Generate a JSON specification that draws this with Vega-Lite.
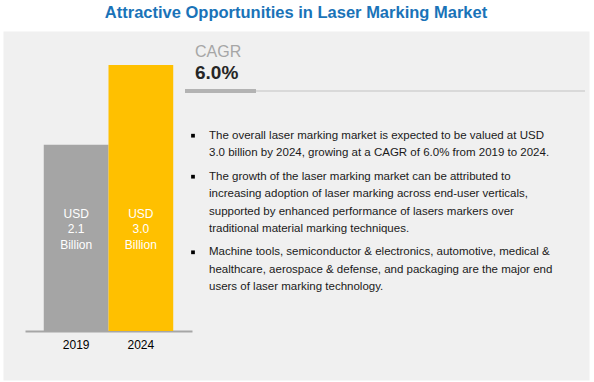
{
  "$schema": "https://vega.github.io/schema/vega-lite/v6.json",
  "width": 586,
  "height": 349,
  "autosize": {"type": "none"},
  "padding": {"left": 3, "top": 31, "right": 5, "bottom": 2},
  "background": "white",
  "view": {"fill": "#f0f0f0", "stroke": "transparent"},
  "title": {
    "text": "Attractive Opportunities in Laser Marking Market",
    "font": "Liberation Sans",
    "fontSize": 16.5,
    "fontWeight": "bold",
    "color": "#1a73b8",
    "anchor": "middle",
    "offset": 10
  },
  "resolve": {"scale": {"x": "independent", "y": "independent"}},
  "layer": [
    {
      "data": {"values": [{"year": "2019", "value": 2.1}, {"year": "2024", "value": 3.0}]},
      "transform": [{"calculate": "'USD\\n' + format(datum.value, '.1f') + '\\nBillion'", "as": "label"}],
      "encoding": {
        "x": {
          "field": "year",
          "type": "nominal",
          "scale": {"range": [22, 189], "paddingInner": 0, "paddingOuter": 0.29},
          "axis": {
            "title": null,
            "labelAngle": 0,
            "offset": -49,
            "ticks": false,
            "grid": false,
            "domainColor": "#a6a6a6",
            "domainWidth": 2,
            "labelFont": "Liberation Sans",
            "labelFontSize": 12,
            "labelColor": "#000000",
            "labelPadding": 8
          }
        }
      },
      "layer": [
        {
          "mark": {"type": "bar"},
          "encoding": {
            "y": {"field": "value", "type": "quantitative", "scale": {"domain": [0, 3], "range": [300, 34], "nice": false}, "axis": null},
            "color": {"field": "year", "type": "nominal", "scale": {"range": ["#a5a5a5", "#ffc000"]}, "legend": null}
          }
        },
        {
          "mark": {"type": "text", "baseline": "top", "align": "center", "lineBreak": "\n", "lineHeight": 15.5, "font": "Liberation Sans", "fontSize": 12, "color": "#ffffff"},
          "encoding": {
            "y": {"datum": 1.38, "type": "quantitative"},
            "text": {"field": "label"}
          }
        }
      ]
    },
    {
      "data": {"values": [
        {"line": 1, "bullet": true, "text": "The overall laser marking market is expected to be valued at USD"},
        {"line": 2, "bullet": false, "text": "3.0 billion by 2024, growing at a CAGR of 6.0% from 2019 to 2024."},
        {"line": 3, "bullet": true, "text": "The growth of the laser marking market can be attributed to"},
        {"line": 4, "bullet": false, "text": "increasing adoption of laser marking across end-user verticals,"},
        {"line": 5, "bullet": false, "text": "supported by enhanced performance of lasers markers over"},
        {"line": 6, "bullet": false, "text": "traditional material marking techniques."},
        {"line": 7, "bullet": true, "text": "Machine tools, semiconductor & electronics, automotive, medical &"},
        {"line": 8, "bullet": false, "text": "healthcare, aerospace & defense, and packaging are the major end"},
        {"line": 9, "bullet": false, "text": "users of laser marking technology."}
      ]},
      "encoding": {
        "y": {
          "field": "line",
          "type": "quantitative",
          "scale": {"domain": [1, 2, 3, 6, 7, 9], "range": [104.7, 121.7, 145.7, 198, 221.3, 256.3], "nice": false, "zero": false},
          "axis": null
        }
      },
      "layer": [
        {
          "mark": {"type": "text", "x": 206, "align": "left", "baseline": "middle", "font": "Liberation Sans", "fontSize": 11.5, "color": "#1a1a1a"},
          "encoding": {"text": {"field": "text"}}
        },
        {
          "transform": [{"filter": "datum.bullet"}],
          "mark": {"type": "square", "x": 190, "size": 14, "filled": true, "color": "#000000", "opacity": 1}
        }
      ]
    },
    {
      "data": {"values": [{"label": "CAGR", "value": "6.0%"}]},
      "layer": [
        {
          "mark": {"type": "rule", "stroke": "#d9d9d9", "strokeWidth": 2},
          "encoding": {"x": {"value": 182}, "x2": {"value": 582}, "y": {"value": 60}}
        },
        {
          "mark": {"type": "rule", "stroke": "#b3b3b3", "strokeWidth": 4},
          "encoding": {"x": {"value": 182}, "x2": {"value": 253}, "y": {"value": 60}}
        },
        {
          "mark": {"type": "text", "x": 192, "y": 21, "align": "left", "baseline": "middle", "font": "Liberation Sans", "fontSize": 16, "color": "#a6a6a6"},
          "encoding": {"text": {"field": "label"}}
        },
        {
          "mark": {"type": "text", "x": 192, "y": 42, "align": "left", "baseline": "middle", "font": "Liberation Sans", "fontSize": 19, "fontWeight": "bold", "color": "#262626"},
          "encoding": {"text": {"field": "value"}}
        }
      ]
    }
  ]
}
